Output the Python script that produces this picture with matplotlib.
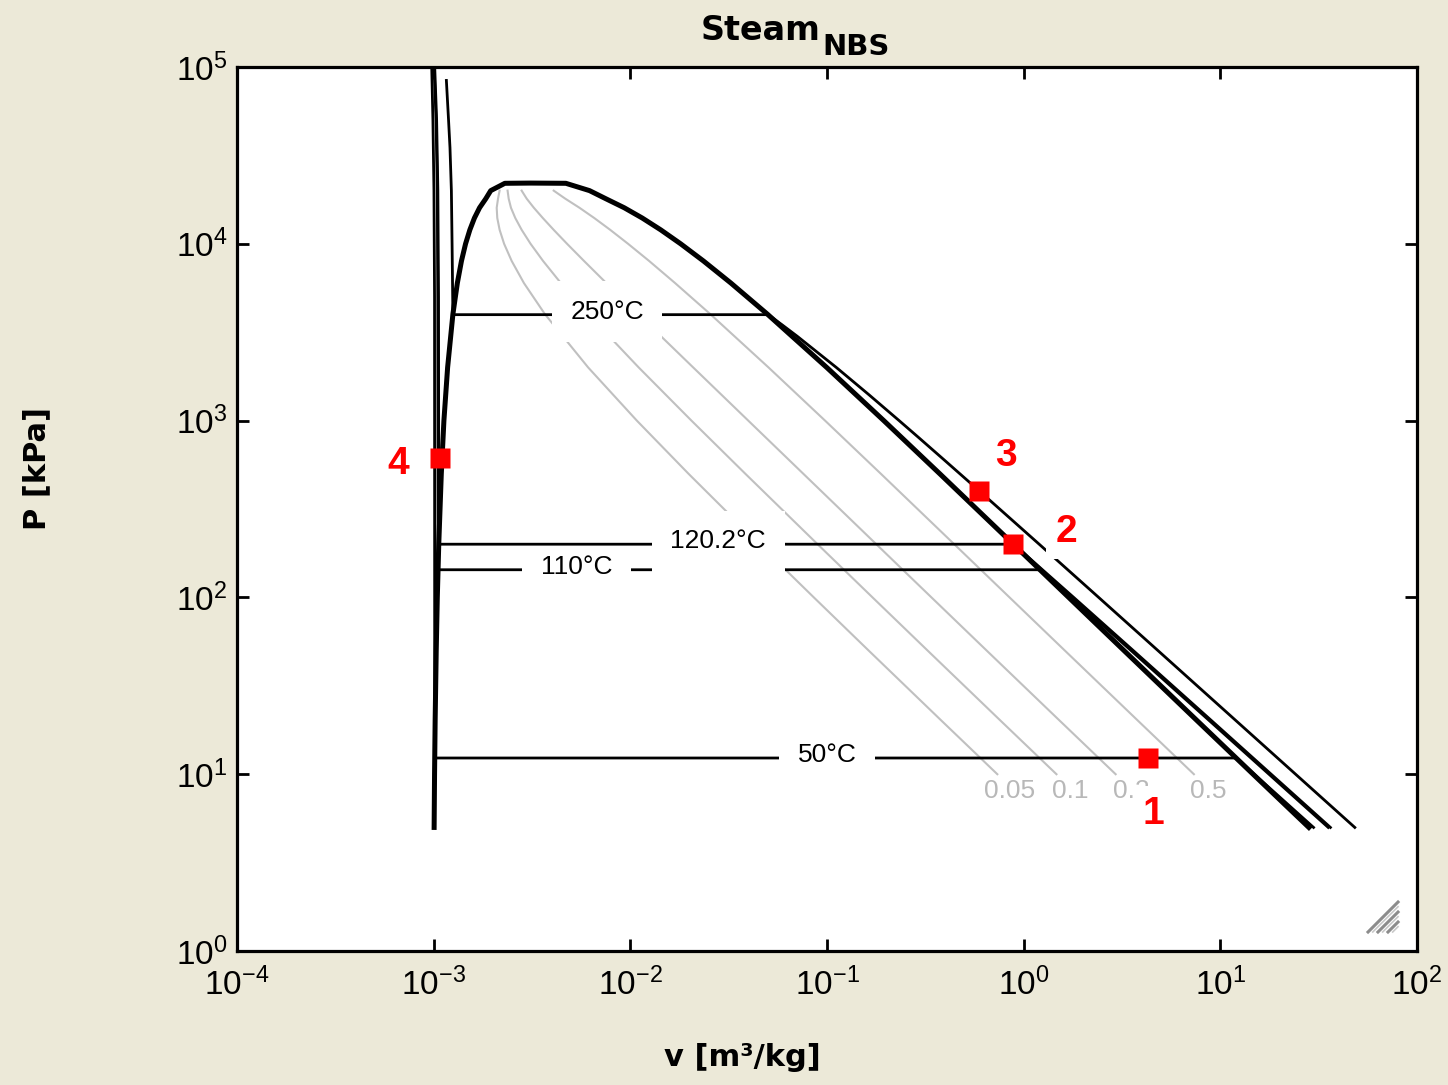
import matplotlib
matplotlib.use('Agg')
import matplotlib.pyplot as plt

# saturation dome of water, P in kPa, v in m3/kg
sat_P = [5, 10, 20, 50, 100, 200, 500, 1000, 2000, 4000, 6000, 8000,
         10000, 12000, 14000, 16000, 18000, 20000, 22000]
sat_vf = [0.001005, 0.001010, 0.001017, 0.001030, 0.001043, 0.001061,
          0.001093, 0.001127, 0.001177, 0.001252, 0.001319, 0.001384,
          0.001452, 0.001527, 0.001611, 0.001711, 0.001840, 0.001950, 0.002300]
sat_vg = [28.19, 14.67, 7.648, 3.240, 1.694, 0.8858, 0.3748, 0.1944,
          0.09959, 0.04978, 0.03245, 0.02353, 0.01803, 0.01427, 0.01149,
          0.009308, 0.007499, 0.006200, 0.004700]
crit_v = 0.003106
crit_P = 22064

# lines of constant quality
qual_P = [10, 20, 50, 100, 200, 500, 1000, 2000, 4000, 6000, 8000,
          10000, 12000, 14000, 16000, 18000, 20000]
qual_005 = [0.7345, 0.3834, 0.1630, 0.08570, 0.04530, 0.01978, 0.01079,
            0.006098, 0.003679, 0.002876, 0.002492, 0.002281, 0.002164,
            0.002105, 0.002091, 0.002123, 0.002163]
qual_01 = [1.468, 0.7657, 0.3250, 0.1704, 0.08953, 0.03847, 0.02045,
           0.01102, 0.006105, 0.004432, 0.003599, 0.003110, 0.002801,
           0.002599, 0.002471, 0.002406, 0.002375]
qual_02 = [2.935, 1.5304, 0.6489, 0.3397, 0.1780, 0.07584, 0.03977,
           0.02086, 0.01096, 0.007545, 0.005814, 0.004768, 0.004075,
           0.003587, 0.003230, 0.002972, 0.002800]
qual_05 = [7.336, 3.8246, 1.6207, 0.8476, 0.4434, 0.1880, 0.09774,
           0.05038, 0.02552, 0.01688, 0.01246, 0.009741, 0.007899,
           0.006551, 0.005510, 0.004670, 0.004075]
qual_labels = ['0.05', '0.1', '0.2', '0.5']
qual_label_v = [0.85, 1.72, 3.51, 8.65]
qual_label_P = 8.0

# isotherms: compressed liquid, across the dome, superheated vapour
iso50_P = [100000, 50000, 20000, 5000, 12.35, 12.35, 10, 5]
iso50_v = [0.000977, 0.000991, 0.001003, 0.001010, 0.001012, 12.03, 14.87, 29.78]
iso110_P = [100000, 50000, 20000, 5000, 143.4, 143.4, 100, 50, 20, 10, 5]
iso110_v = [0.001005, 0.001028, 0.001043, 0.001049, 0.001052, 1.2094,
            1.744, 3.52, 8.83, 17.67, 35.36]
iso120_P = [100000, 50000, 20000, 5000, 200, 200, 150, 100, 50, 20, 10, 5]
iso120_v = [0.001012, 0.001035, 0.001050, 0.001058, 0.001061, 0.8858,
            1.190, 1.796, 3.612, 9.06, 18.13, 36.28]
iso250_P = [84000, 50000, 35000, 20000, 10000, 5000, 3976, 3976, 3500, 3000,
            2000, 1400, 1000, 800, 600, 400, 200, 100, 50, 20, 10, 5]
iso250_v = [0.00116, 0.00119, 0.00121, 0.00123, 0.00124, 0.001249, 0.001252,
            0.05013, 0.05875, 0.07058, 0.11144, 0.16350, 0.23268, 0.29321,
            0.39383, 0.59520, 1.1989, 2.4062, 4.8206, 12.06, 24.13, 48.27]
iso_labels = ['50°C', '110°C', '120.2°C', '250°C']
iso_label_v = [0.100, 0.00532, 0.0280, 0.00761]
iso_label_P = [12.35, 143.4, 200, 3976]

# cycle states
state_names = ['1', '2', '3', '4']
state_v = [4.27, 0.8858, 0.5952, 0.001075]
state_P = [12.35, 200, 400, 615]

bg = '#ECE9D8'
plt.rcParams['font.family'] = ['Liberation Sans', 'DejaVu Sans']
plt.rcParams['mathtext.default'] = 'regular'
plt.rcParams['axes.unicode_minus'] = False

fig = plt.figure(figsize=(14.48, 10.85), dpi=100, facecolor=bg)
ax = fig.add_axes([0.1637, 0.1235, 0.8149, 0.8147])
ax.set_xscale('log')
ax.set_yscale('log')
ax.set_xlim(1e-4, 1e2)
ax.set_ylim(1, 1e5)

# quality lines and their labels
for qv in [qual_005, qual_01, qual_02, qual_05]:
    ax.plot(qv, qual_P, color='#C0C0C0', lw=1.5, zorder=1)
for lbl, lv in zip(qual_labels, qual_label_v):
    ax.text(lv, qual_label_P, lbl, color='#B8B8B8', fontsize=19,
            ha='center', va='center', zorder=6.5)

# isotherms, each label box hides what was drawn before it
isos = [(iso50_v, iso50_P), (iso110_v, iso110_P),
        (iso120_v, iso120_P), (iso250_v, iso250_P)]
for i, (iv, ip) in enumerate(isos):
    z = 2 + i
    ax.plot(iv, ip, color='black', lw=2.0, zorder=z, solid_joinstyle='miter')
    ax.annotate(iso_labels[i], (iso_label_v[i], iso_label_P[i]),
                xytext=(0, 2), textcoords='offset points',
                ha='center', va='center', fontsize=19, zorder=z + 0.5,
                bbox=dict(boxstyle='square,pad=0.7', fc='white', ec='none'))

# saturation dome
dome_v = sat_vf + [crit_v] + sat_vg[::-1]
dome_P = sat_P + [crit_P] + sat_P[::-1]
ax.plot(dome_v, dome_P, color='black', lw=3.6, zorder=6,
        solid_joinstyle='round')

# state points
offsets = {'1': (4, -40), '2': (38, 9), '3': (19, 25), '4': (-30, -4)}
for name, sv, sp in zip(state_names, state_v, state_P):
    ax.annotate(name, (sv, sp), xytext=offsets[name], textcoords='offset points',
                color='red', fontsize=28, fontweight='bold',
                ha='center', va='center', zorder=7,
                bbox=dict(boxstyle='square,pad=0.25', fc='white', ec='none'))
ax.plot(state_v, state_P, 's', color='red', ms=14, mec='none', ls='none',
        zorder=8)

# resize grip in the corner (axes fraction)
grip_x0 = [0.9585, 0.9669, 0.9754]
grip_y1 = [0.0554, 0.0441, 0.0328]
for x0, y1 in zip(grip_x0, grip_y1):
    ax.plot([x0, 0.9839], [0.0215, y1], color='#8C8C8C', lw=2.2,
            transform=ax.transAxes, zorder=9, clip_on=False)
    ax.plot([x0 + 0.004, 0.9839], [0.0215, y1 - 0.0053], color='#C8C8C8',
            lw=1.2, transform=ax.transAxes, zorder=9, clip_on=False)

ax.minorticks_off()
ax.tick_params(which='major', direction='in', length=8.6, width=2.0,
               top=True, right=True, labelsize=24, pad=7)
ax.tick_params(axis='x', pad=12)
for s in ax.spines.values():
    s.set_linewidth(2.3)

ax.set_xlabel('v [m³/kg]', fontsize=22, fontweight='bold', family='DejaVu Sans')
ax.set_ylabel('P [kPa]', fontsize=22, fontweight='bold', family='DejaVu Sans')
ax.xaxis.set_label_coords(0.428, -0.12)
ax.xaxis.label.set_va('center')
ax.yaxis.set_label_coords(-0.1695, 0.546)
ax.yaxis.label.set_va('center')

fig.text(0.5663, 0.9631, 'Steam', ha='right', va='baseline', fontsize=24,
         fontweight='bold', family='DejaVu Sans')
fig.text(0.5677, 0.9493, 'NBS', ha='left', va='baseline', fontsize=21,
         fontweight='bold', family='DejaVu Sans')

fig.savefig('out.png', dpi=100, facecolor=bg)
